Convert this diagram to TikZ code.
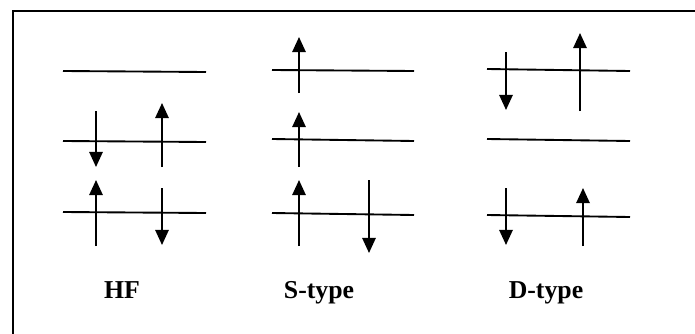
\documentclass[tikz,border=0pt]{standalone}
\usepackage{fontspec}
\setmainfont{Liberation Serif}
\usetikzlibrary{arrows.meta}

\begin{document}
\begin{tikzpicture}[
    x=0.03cm, y=-0.03cm,
    level/.style={line width=1.6pt},
    spin/.style={line width=1.6pt, -{Triangle[width=11.5pt,length=13pt]}},
    frame/.style={line width=1.8pt},
    tag/.style={anchor=base, font=\fontsize{22}{26}\selectfont\bfseries}
]
    \useasboundingbox (0,0) rectangle (695,333);
    \fill[white] (0,0) rectangle (695,333);

    % Frame
    \draw[frame] (13,340) |- (700,11);

    % HF
    \draw[level] (63,71) -- (206,72);
    \draw[level] (63,141) -- (206,142);
    \draw[level] (63,212) -- (206,213);
    \draw[spin] (96,111) -- (96,167);
    \draw[spin] (162,167) -- (162,103);
    \draw[spin] (96,246) -- (96,180);
    \draw[spin] (162,188) -- (162,245);

    % S-type
    \draw[level] (272,70) -- (414,71);
    \draw[level] (272,139) -- (414,141);
    \draw[level] (272,213) -- (414,215);
    \draw[spin] (299,93) -- (299,37);
    \draw[spin] (299,167) -- (299,112);
    \draw[spin] (299,246) -- (299,180);
    \draw[spin] (369,180) -- (369,253);

    % D-type
    \draw[level] (487,69) -- (630,71);
    \draw[level] (487,139) -- (630,141);
    \draw[level] (487,215) -- (630,217);
    \draw[spin] (506,52) -- (506,110);
    \draw[spin] (580,111) -- (580,33);
    \draw[spin] (506,188) -- (506,245);
    \draw[spin] (583,246) -- (583,188);

    % Labels
    \node[tag] (hf) at (122,298) {HF};
    \node[tag] (stype) at (319,298) {S-type};
    \node[tag] (dtype) at (546,298) {D-type};
\end{tikzpicture}
\end{document}
